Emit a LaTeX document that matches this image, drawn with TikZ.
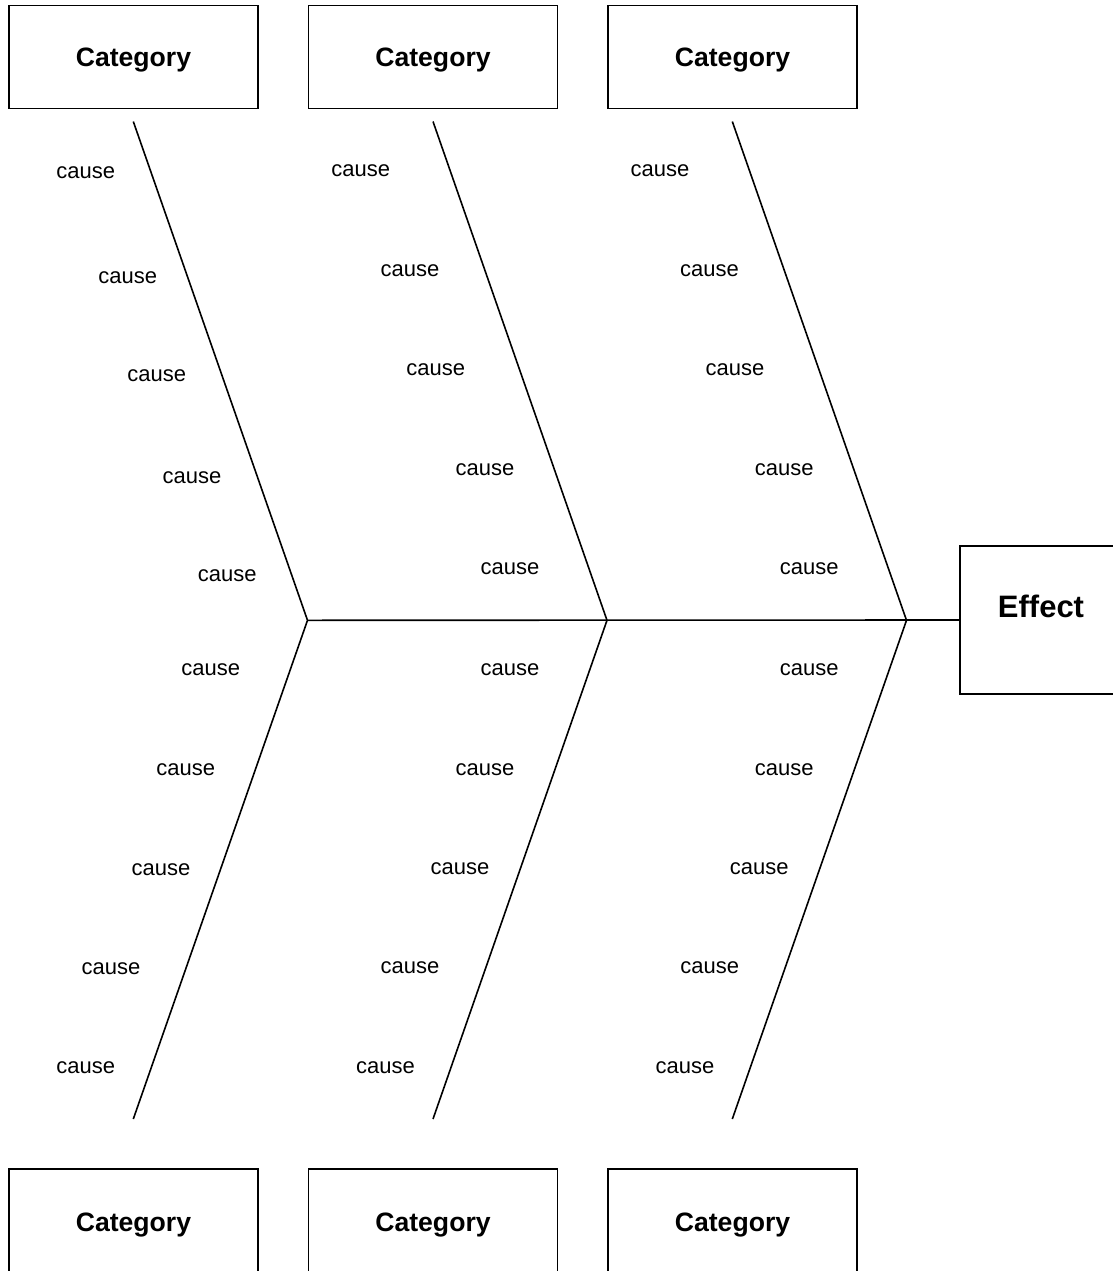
\documentclass[tikz,border=0pt]{standalone}
\usepackage{fontspec}
\setmainfont{Liberation Sans}
\begin{document}
\begin{tikzpicture}[x=1pt,y=-1pt,
  line width=1.6pt,
  catbox/.style={draw, rectangle, minimum width=249pt, minimum height=103pt,
    inner sep=0pt, font=\fontsize{26.6}{30}\selectfont\bfseries,
    text height=20pt, text depth=0pt},
  catboxlow/.style={catbox, text height=21.5pt},
  effbox/.style={draw, rectangle, minimum width=162.5pt, minimum height=148.5pt,
    inner sep=0pt, font=\fontsize{31}{34}\selectfont\bfseries,
    text height=0pt, text depth=5pt},
  cause/.style={inner sep=0pt, yshift=-1.2pt, font=\fontsize{22}{24}\selectfont},
  bone/.style={line width=1.6pt, line join=miter}]
\useasboundingbox (0,0) rectangle (1113,1271);
\clip (0,0) rectangle (1113,1271);

% category boxes above and below the spine
\node[catbox] (c1) at (133.5,57) {Category};
\node[catbox] (c2) at (433,57) {Category};
\node[catbox] (c3) at (732.5,57) {Category};
\node[catboxlow] (c4) at (133.5,1220.3) {Category};
\node[catboxlow] (c5) at (433,1220.3) {Category};
\node[catboxlow] (c6) at (732.5,1220.3) {Category};

% effect box at the head of the fish
\node[effbox] (eff) at (1041,620) {Effect};

% joints on the spine and free ends of the bones
\coordinate (j1) at (307.5,620.3);
\coordinate (j2) at (607,620.3);
\coordinate (j3) at (906.5,620.3);
\coordinate (t1) at (133.3,121.5);
\coordinate (t2) at (433,121.5);
\coordinate (t3) at (732.3,121.5);
\coordinate (b1) at (133.3,1119);
\coordinate (b2) at (433,1119);
\coordinate (b3) at (732.3,1119);

% spine
\draw[bone] (j1) -- (eff.west);
% bones
\draw[bone] (t1) -- (j1) -- (b1);
\draw[bone] (t2) -- (j2) -- (b2);
\draw[bone] (t3) -- (j3) -- (b3);

% causes, left group
\node[cause] (a1) at (85.7,171.5) {cause};
\node[cause] (a2) at (127.7,276.5) {cause};
\node[cause] (a3) at (156.7,374.3) {cause};
\node[cause] (a4) at (192,476) {cause};
\node[cause] (a5) at (227.3,574) {cause};
\node[cause] (a6) at (210.7,668.3) {cause};
\node[cause] (a7) at (185.7,768.3) {cause};
\node[cause] (a8) at (161,868.3) {cause};
\node[cause] (a9) at (111,967.5) {cause};
\node[cause] (a10) at (85.7,1066.7) {cause};

% causes, middle group
\node[cause] (m1) at (360.7,169.3) {cause};
\node[cause] (m2) at (410,269.3) {cause};
\node[cause] (m3) at (435.7,368.3) {cause};
\node[cause] (m4) at (485,468.3) {cause};
\node[cause] (m5) at (510,567.7) {cause};
\node[cause] (m6) at (510,668.3) {cause};
\node[cause] (m7) at (485,768.3) {cause};
\node[cause] (m8) at (460,867.7) {cause};
\node[cause] (m9) at (410,966.7) {cause};
\node[cause] (m10) at (385.5,1066.7) {cause};

% causes, right group
\node[cause] (r1) at (660,169.3) {cause};
\node[cause] (r2) at (709.5,269.3) {cause};
\node[cause] (r3) at (735,368.3) {cause};
\node[cause] (r4) at (784.3,468.3) {cause};
\node[cause] (r5) at (809.3,567.7) {cause};
\node[cause] (r6) at (809.3,668.3) {cause};
\node[cause] (r7) at (784.3,768.3) {cause};
\node[cause] (r8) at (759.3,867.7) {cause};
\node[cause] (r9) at (709.7,966.7) {cause};
\node[cause] (r10) at (685,1066.7) {cause};
\end{tikzpicture}
\end{document}
